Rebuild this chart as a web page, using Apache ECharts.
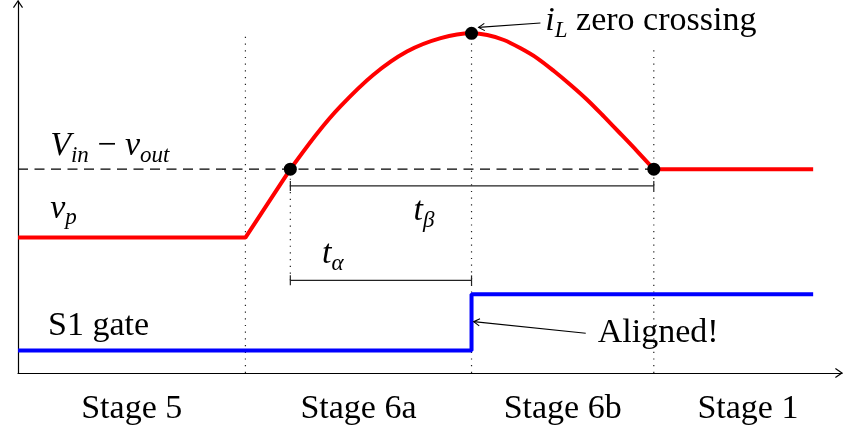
<!DOCTYPE html>
<html>
<head>
<meta charset="utf-8">
<script src="https://cdn.jsdelivr.net/npm/echarts@6/dist/echarts.min.js"></script>
<style>
  html, body { margin: 0; padding: 0; background: #fff; }
  #chart { width: 843px; height: 440px; }
</style>
</head>
<body>
<div id="chart"></div>
<script>
// Time runs 0..100 (arbitrary units), levels run 0..100 (arbitrary units).
const stageBounds = [0, 27.6, 55.04, 77.16, 100];
const stageNames = ['Stage 5', 'Stage 6a', 'Stage 6b', 'Stage 1'];

// v_p: flat, linear ramp up to Vin - vout, resonant arc, then clamped.
const vpRamp = [[0, 36.4], [27.6, 36.4], [33.05, 54.8]];
const vpArc = [
  [33.05, 54.8], [36.3, 64.4], [39.1, 71.6], [43.1, 80.1], [47.2, 86.4],
  [51.3, 90.0], [55.04, 91.3], [56.95, 90.86], [58.97, 89.52], [61.0, 87.28],
  [63.03, 84.6], [65.04, 81.18], [67.07, 77.42], [69.1, 73.39], [71.12, 68.9],
  [73.15, 64.25], [75.18, 59.54], [77.16, 54.8]
];
const vpTail = [[77.16, 54.8], [96.5, 54.8]];

// S1 gate drive: low until the i_L zero crossing, then high.
const s1Gate = [[0, 6.05], [55.04, 6.05], [55.04, 21.2], [96.5, 21.2]];

// Vin - vout reference level.
const vinMinusVout = [[0, 54.8], [77.16, 54.8]];

// Marked events: ramp reaches Vin - vout, i_L zero crossing, clamp.
const markedPoints = [[33.05, 54.8], [55.04, 91.3], [77.16, 54.8]];

// Dotted guides: [x, yFrom, yTo]
const guides = [[27.6, 0, 91.4], [55.04, 0, 91.3], [77.16, 0, 87.9], [33.05, 24.9, 54.8]];

// Interval brackets: [xFrom, xTo, y]
const brackets = [[33.05, 77.16, 50.3], [33.05, 55.04, 24.9]];

// Annotation arrows: [xFrom, yFrom, xTo, yTo]
const arrows = [[63.4, 94.1, 55.9, 92.9], [68.9, 10.67, 55.3, 13.8]];

// Text labels: [x, y, rich text, align]
const labels = [
  [3.9, 61.0, '{m|V}{s|in}{r| − }{m|v}{s|out}', 'left'],
  [3.9, 44.1, '{m|v}{s|p}', 'left'],
  [3.65, 12.6, '{r|S1 gate}', 'left'],
  [48.0, 43.5, '{m|t}{s|β}', 'left'],
  [36.9, 32.0, '{m|t}{s|α}', 'left'],
  [64.0, 94.6, '{m|i}{s|L}{r| zero crossing}', 'left'],
  [70.35, 10.75, '{r|Aligned!}', 'left']
];
const stageLabelY = -9.7;
stageNames.forEach(function (name, i) {
  labels.push([(stageBounds[i] + stageBounds[i + 1]) / 2, stageLabelY, '{r|' + name + '}', 'center']);
});

const SERIF = '"Liberation Serif", "DejaVu Serif", serif';
const rich = {
  m: { font: 'italic 34px ' + SERIF, lineHeight: 42, fill: '#000' },
  r: { font: '34px ' + SERIF, lineHeight: 42, fill: '#000' },
  s: { font: 'italic 23px ' + SERIF, lineHeight: 22, verticalAlign: 'bottom', fill: '#000' }
};

function arrowHead(tip, from, len, spread) {
  const ang = Math.atan2(tip[1] - from[1], tip[0] - from[0]);
  return [
    [tip[0] - len * Math.cos(ang - spread), tip[1] - len * Math.sin(ang - spread)],
    tip,
    [tip[0] - len * Math.cos(ang + spread), tip[1] - len * Math.sin(ang + spread)]
  ];
}

const chart = echarts.init(document.getElementById('chart'), null, { renderer: 'canvas' });

chart.setOption({
  animation: false,
  backgroundColor: '#fff',
  grid: { left: 18, right: 1, top: 1, bottom: 67 },
  xAxis: {
    type: 'value', min: 0, max: 100,
    axisLine: { show: true, onZero: false, lineStyle: { color: '#000', width: 1.2 } },
    axisTick: { show: false }, axisLabel: { show: false }, splitLine: { show: false }
  },
  yAxis: {
    type: 'value', min: 0, max: 100,
    axisLine: { show: true, onZero: false, lineStyle: { color: '#000', width: 1.2 } },
    axisTick: { show: false }, axisLabel: { show: false }, splitLine: { show: false }
  },
  series: [
    {
      name: 'guides', type: 'custom', z: 1, silent: true,
      data: guides.map(function (g) { return [g[0], g[1]]; }),
      renderItem: function (params, api) {
        const g = guides[params.dataIndex];
        const a = api.coord([g[0], g[1]]), b = api.coord([g[0], g[2]]);
        return {
          type: 'line',
          shape: { x1: a[0], y1: a[1], x2: b[0], y2: b[1] },
          style: { stroke: '#222', lineWidth: 1.2, lineDash: [1.2, 5.5] }
        };
      }
    },
    {
      name: 'Vin - vout', type: 'line', z: 2, silent: true, symbol: 'none',
      data: vinMinusVout,
      lineStyle: { color: '#000', width: 1.3, type: [10, 6.5] }
    },
    {
      name: 'brackets', type: 'custom', z: 2, silent: true,
      data: brackets.map(function (b) { return [b[0], b[2]]; }),
      renderItem: function (params, api) {
        const b = brackets[params.dataIndex];
        const a = api.coord([b[0], b[2]]), c = api.coord([b[1], b[2]]);
        const st = { stroke: '#222', lineWidth: 1.2 };
        return {
          type: 'group',
          children: [
            { type: 'line', shape: { x1: a[0], y1: a[1], x2: c[0], y2: c[1] }, style: st },
            { type: 'line', shape: { x1: a[0], y1: a[1] - 5, x2: a[0], y2: a[1] + 5 }, style: st },
            { type: 'line', shape: { x1: c[0], y1: c[1] - 5, x2: c[0], y2: c[1] + 5 }, style: st }
          ]
        };
      }
    },
    {
      name: 'v_p', type: 'line', z: 3, silent: true, symbol: 'none',
      data: vpRamp, lineStyle: { color: '#ff0000', width: 4 }
    },
    {
      name: 'v_p arc', type: 'line', z: 3, silent: true, symbol: 'none', smooth: 0.3,
      data: vpArc, lineStyle: { color: '#ff0000', width: 4 }
    },
    {
      name: 'v_p clamp', type: 'line', z: 3, silent: true, symbol: 'none',
      data: vpTail, lineStyle: { color: '#ff0000', width: 4 }
    },
    {
      name: 'S1 gate', type: 'line', z: 3, silent: true, symbol: 'none',
      data: s1Gate, lineStyle: { color: '#0000ff', width: 4 }
    },
    {
      name: 'events', type: 'scatter', z: 4, silent: true,
      data: markedPoints, symbol: 'circle', symbolSize: 13,
      itemStyle: { color: '#000', opacity: 1 }
    },
    {
      name: 'arrows', type: 'custom', z: 4, silent: true,
      data: arrows.map(function (a) { return [a[0], a[1]]; }),
      renderItem: function (params, api) {
        const a = arrows[params.dataIndex];
        const p0 = api.coord([a[0], a[1]]), p1 = api.coord([a[2], a[3]]);
        const st = { stroke: '#000', lineWidth: 1.1, fill: null };
        return {
          type: 'group',
          children: [
            { type: 'line', shape: { x1: p0[0], y1: p0[1], x2: p1[0], y2: p1[1] }, style: st },
            { type: 'polyline', shape: { points: arrowHead(p1, p0, 7, 0.55) }, style: st }
          ]
        };
      }
    },
    {
      name: 'axis heads', type: 'custom', z: 4, silent: true,
      data: [[100, 0], [0, 100]],
      renderItem: function (params, api) {
        const tip = api.coord(api.value(0) === 100 ? [100, 0] : [0, 100]);
        const from = params.dataIndex === 0 ? [tip[0] - 10, tip[1]] : [tip[0], tip[1] + 10];
        return {
          type: 'polyline',
          shape: { points: arrowHead(tip, from, 8, 0.6) },
          style: { stroke: '#000', lineWidth: 1.2, fill: null }
        };
      }
    },
    {
      name: 'labels', type: 'custom', z: 5, silent: true,
      data: labels.map(function (l) { return [l[0], l[1]]; }),
      renderItem: function (params, api) {
        const l = labels[params.dataIndex];
        const p = api.coord([l[0], l[1]]);
        return {
          type: 'text', x: p[0], y: p[1],
          style: { text: l[2], rich: rich, font: '34px ' + SERIF, fill: '#000', align: l[3], verticalAlign: 'middle' }
        };
      }
    }
  ]
});
</script>
</body>
</html>
